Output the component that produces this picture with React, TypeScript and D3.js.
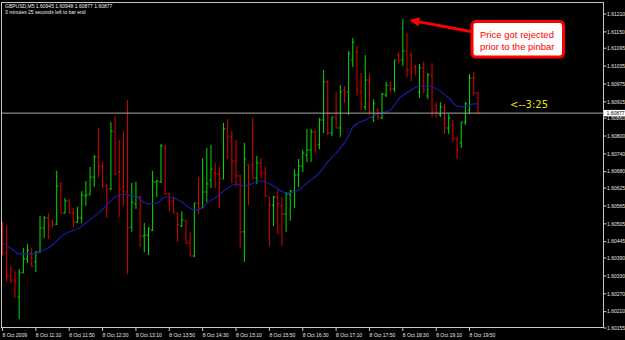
import React, { useEffect } from "react";
import * as d3 from "d3";

const opens = [1.60498,1.60407,1.60330,1.60316,1.60259,1.60340,1.60387,1.60407,1.60377,1.60410,1.60491,1.60525,1.60511,1.60504,1.60639,1.60541,1.60582,1.60541,1.60511,1.60525,1.60599,1.60602,1.60662,1.60730,1.60699,1.60632,1.60622,1.60814,1.60679,1.60629,1.60612,1.60494,1.60572,1.60595,1.60464,1.60467,1.60484,1.60646,1.60646,1.60760,1.60605,1.60582,1.60541,1.60498,1.60515,1.60441,1.60397,1.60575,1.60558,1.60612,1.60652,1.60676,1.60672,1.60656,1.60824,1.60797,1.60716,1.60666,1.60478,1.60703,1.60703,1.60659,1.60709,1.60676,1.60595,1.60568,1.60595,1.60565,1.60538,1.60605,1.60615,1.60669,1.60699,1.60736,1.60753,1.60814,1.60770,1.60854,1.60982,1.60810,1.60864,1.60827,1.60955,1.60948,1.61055,1.61082,1.60948,1.60898,1.60988,1.60864,1.60887,1.60861,1.60938,1.60971,1.60958,1.61072,1.61055,1.61086,1.61072,1.61032,1.60948,1.61029,1.60935,1.61005,1.60901,1.60871,1.60898,1.60827,1.60837,1.60790,1.60777,1.60847,1.60887,1.60995,1.60945];
const highs = [1.60511,1.60498,1.60363,1.60346,1.60353,1.60424,1.60437,1.60424,1.60414,1.60531,1.60531,1.60541,1.60518,1.60683,1.60646,1.60592,1.60588,1.60558,1.60562,1.60615,1.60649,1.60696,1.60736,1.60827,1.60713,1.60639,1.60847,1.60867,1.60787,1.60817,1.60921,1.60642,1.60646,1.60599,1.60508,1.60494,1.60683,1.60652,1.60773,1.60770,1.60609,1.60595,1.60541,1.60548,1.60518,1.60478,1.60575,1.60662,1.60726,1.60760,1.60770,1.60709,1.60696,1.60844,1.60857,1.60817,1.60787,1.60669,1.60777,1.60706,1.60861,1.60733,1.60726,1.60696,1.60595,1.60599,1.60619,1.60595,1.60612,1.60619,1.60689,1.60723,1.60753,1.60824,1.60824,1.60820,1.60861,1.61022,1.60988,1.60864,1.60948,1.60971,1.60968,1.61086,1.61129,1.61102,1.61012,1.61072,1.61008,1.60924,1.60894,1.60945,1.60982,1.60982,1.61055,1.61082,1.61193,1.61146,1.61082,1.61039,1.61042,1.61049,1.61012,1.61045,1.60914,1.60914,1.60908,1.60874,1.60854,1.60797,1.60847,1.60914,1.61008,1.61015,1.60948];
const lows = [1.60400,1.60310,1.60306,1.60256,1.60185,1.60340,1.60373,1.60360,1.60343,1.60407,1.60457,1.60454,1.60494,1.60501,1.60541,1.60541,1.60541,1.60494,1.60508,1.60508,1.60565,1.60602,1.60629,1.60662,1.60629,1.60525,1.60619,1.60669,1.60528,1.60565,1.60336,1.60478,1.60555,1.60427,1.60410,1.60400,1.60481,1.60595,1.60642,1.60602,1.60548,1.60541,1.60444,1.60494,1.60437,1.60397,1.60393,1.60538,1.60558,1.60578,1.60625,1.60625,1.60558,1.60656,1.60723,1.60642,1.60629,1.60424,1.60377,1.60568,1.60656,1.60639,1.60659,1.60595,1.60430,1.60498,1.60471,1.60430,1.60478,1.60515,1.60558,1.60629,1.60679,1.60713,1.60713,1.60743,1.60756,1.60810,1.60803,1.60800,1.60827,1.60797,1.60911,1.60871,1.61032,1.60935,1.60887,1.60887,1.60871,1.60847,1.60854,1.60857,1.60931,1.60948,1.60948,1.61045,1.61035,1.60998,1.60985,1.61005,1.60928,1.60945,1.60924,1.60864,1.60861,1.60864,1.60807,1.60807,1.60780,1.60723,1.60760,1.60837,1.60874,1.60938,1.60877];
const closes = [1.60407,1.60330,1.60316,1.60310,1.60340,1.60387,1.60417,1.60363,1.60410,1.60491,1.60525,1.60498,1.60501,1.60632,1.60541,1.60582,1.60541,1.60511,1.60525,1.60602,1.60602,1.60662,1.60730,1.60699,1.60629,1.60619,1.60817,1.60672,1.60622,1.60612,1.60491,1.60578,1.60595,1.60464,1.60467,1.60488,1.60646,1.60649,1.60767,1.60605,1.60582,1.60541,1.60501,1.60518,1.60441,1.60397,1.60575,1.60558,1.60612,1.60639,1.60689,1.60672,1.60656,1.60824,1.60797,1.60716,1.60666,1.60478,1.60723,1.60642,1.60659,1.60709,1.60676,1.60599,1.60568,1.60595,1.60572,1.60538,1.60605,1.60615,1.60669,1.60699,1.60743,1.60753,1.60814,1.60770,1.60854,1.60982,1.60810,1.60864,1.60827,1.60948,1.60948,1.61076,1.61116,1.60955,1.60908,1.60988,1.60881,1.60908,1.60864,1.60941,1.60971,1.60958,1.61055,1.61055,1.61086,1.61022,1.61015,1.61015,1.61029,1.60955,1.61005,1.60881,1.60881,1.60898,1.60827,1.60861,1.60793,1.60753,1.60847,1.60908,1.60995,1.60945,1.60877];

const maIndex = [0,2,4,7,10,12,14,16,18,20,23,25,27,29,30,32,35,37,39,41,43,46,48,49,51,54,56,58,62,65,68,71,73,76,78,80,83,84,87,88,90,93,95,98,100,102,105,107,109,111,113,114];
const maValue = [1.60441,1.60424,1.60404,1.60404,1.60417,1.60434,1.60461,1.60478,1.60488,1.60508,1.60541,1.60568,1.60595,1.60605,1.60602,1.60595,1.60572,1.60575,1.60595,1.60592,1.60578,1.60551,1.60558,1.60575,1.60592,1.60625,1.60639,1.60632,1.60649,1.60632,1.60609,1.60619,1.60642,1.60676,1.60713,1.60743,1.60800,1.60830,1.60854,1.60861,1.60874,1.60887,1.60924,1.60955,1.60968,1.60968,1.60951,1.60928,1.60901,1.60898,1.60908,1.60908];

const priceTicks = [1.61210,1.61150,1.61095,1.61035,1.60975,1.60915,1.60860,1.60800,1.60740,1.60680,1.60625,1.60565,1.60505,1.60445,1.60390,1.60330,1.60270,1.60210,1.60155];
const timeTickIndex = [0,8,16,24,32,40,48,56,64,72,80,88,96,104,112];
const timeTickLabels = ["8 Oct 2009","8 Oct 11:10","8 Oct 11:50","8 Oct 12:30","8 Oct 13:10","8 Oct 13:50","8 Oct 14:30","8 Oct 15:10","8 Oct 15:50","8 Oct 16:30","8 Oct 17:10","8 Oct 17:50","8 Oct 18:30","8 Oct 19:10","8 Oct 19:50"];

const symbolLine = "GBPUSD,M5  1.60945 1.60948 1.60877 1.60877";
const timerLine = "3 minutes 25 seconds left to bar end";
const currentPrice = 1.60877;
const calloutLines = ["Price got rejected", "prior to the pinbar"];
const countdownText = "<--3:25";
const rejectedBarIndex = 96;

export default function App() {
  useEffect(() => {
    document.body.style.margin = "0";
    document.body.style.background = "#000";
  }, []);

  const W = 625, H = 340;
  const left = 1.5, top = 2.5, right = 603.5, bottom = 327.5;
  const x = d3.scaleLinear().domain([0, opens.length - 1]).range([2.5, 477.9]);
  const y = d3.scaleLinear().domain([1.60155, 1.61210]).range([328, 14]);

  const maPath = d3.line<number>()
    .x((_, k) => x(maIndex[k]))
    .y((d) => y(d))
    .curve(d3.curveMonotoneX)(maValue) || "";

  const small = { fontFamily: "'Liberation Sans', Arial, sans-serif", fontSize: 5 };

  const tipX = x(rejectedBarIndex) + 6.5;
  const tipY = y(highs[rejectedBarIndex]) + 1;
  const tailX = 471, tailY = 31.5;
  const dx = tailX - tipX, dy = tailY - tipY;
  const len = Math.hypot(dx, dy);
  const ux = dx / len, uy = dy / len;
  const hl = 10, hw = 4.8;
  const bx = tipX + ux * hl, by = tipY + uy * hl;
  const head = `${tipX},${tipY} ${bx - uy * hw},${by + ux * hw} ${bx + uy * hw},${by - ux * hw}`;

  return (
    <svg width={W} height={H} style={{ display: "block", position: "absolute", left: 0, top: 0, background: "#000" }}>
      <rect x={0} y={0} width={W} height={H} fill="#000" />
      <g>
        {opens.map((o, i) => {
          const c = closes[i];
          const up = c >= o;
          const col = up ? "#00e000" : "#e00000";
          const xi = x(i);
          return (
            <g key={i} stroke={col} strokeWidth={1}>
              <line x1={xi} x2={xi} y1={y(highs[i])} y2={y(lows[i])} />
              <line x1={xi - 1.6} x2={xi} y1={y(o)} y2={y(o)} />
              <line x1={xi} x2={xi + 1.6} y1={y(c)} y2={y(c)} />
            </g>
          );
        })}
      </g>
      <path d={maPath} fill="none" stroke="#1c1cb4" strokeWidth={1.1} />
      <line x1={left} x2={right} y1={y(currentPrice)} y2={y(currentPrice)} stroke="#a8a8a8" strokeWidth={1} />
      <rect x={left} y={top} width={right - left} height={bottom - top} fill="none" stroke="#c8c8c8" strokeWidth={1} />
      <g style={small} fill="#e8e8e8">
        {priceTicks.map((p) => (
          <g key={p}>
            <line x1={right} x2={right + 3} y1={y(p)} y2={y(p)} stroke="#c8c8c8" strokeWidth={1} />
            <text x={right + 3.5} y={y(p)} dy="0.35em">{p.toFixed(5)}</text>
          </g>
        ))}
        <rect x={right + 0.5} y={y(currentPrice) - 3.2} width={21} height={6.4} fill="#fff" />
        <text x={right + 3} y={y(currentPrice)} dy="0.35em" fill="#000">{currentPrice.toFixed(5)}</text>
      </g>
      <g style={small} fill="#e8e8e8">
        {timeTickIndex.map((ti, k) => (
          <g key={ti}>
            <line x1={x(ti)} x2={x(ti)} y1={bottom} y2={bottom + 3.5} stroke="#c8c8c8" strokeWidth={1} />
            <text x={x(ti)} y={336.5}>{timeTickLabels[k]}</text>
          </g>
        ))}
      </g>
      <g style={small} fill="#f0f0f0">
        <text x={5} y={7.5}>{symbolLine}</text>
        <text x={5} y={14}>{timerLine}</text>
      </g>
      <line x1={tailX} y1={tailY} x2={bx} y2={by} stroke="#ff0000" strokeWidth={3} />
      <polygon points={head} fill="#ff0000" />
      <rect x={472} y={21.5} width={91.5} height={35.5} rx={4} ry={4} fill="#fff" stroke="#ff0000" strokeWidth={3} />
      <g style={{ fontFamily: "'Liberation Sans', Arial, sans-serif", fontSize: 9.5 }} fill="#ff0000">
        <text x={480} y={37.5}>{calloutLines[0]}</text>
        <text x={480} y={49.5}>{calloutLines[1]}</text>
      </g>
      <text x={510} y={108} fill="#e8e800" style={{ fontFamily: "'DejaVu Sans', sans-serif", fontSize: 10 }}>{countdownText}</text>
    </svg>
  );
}
